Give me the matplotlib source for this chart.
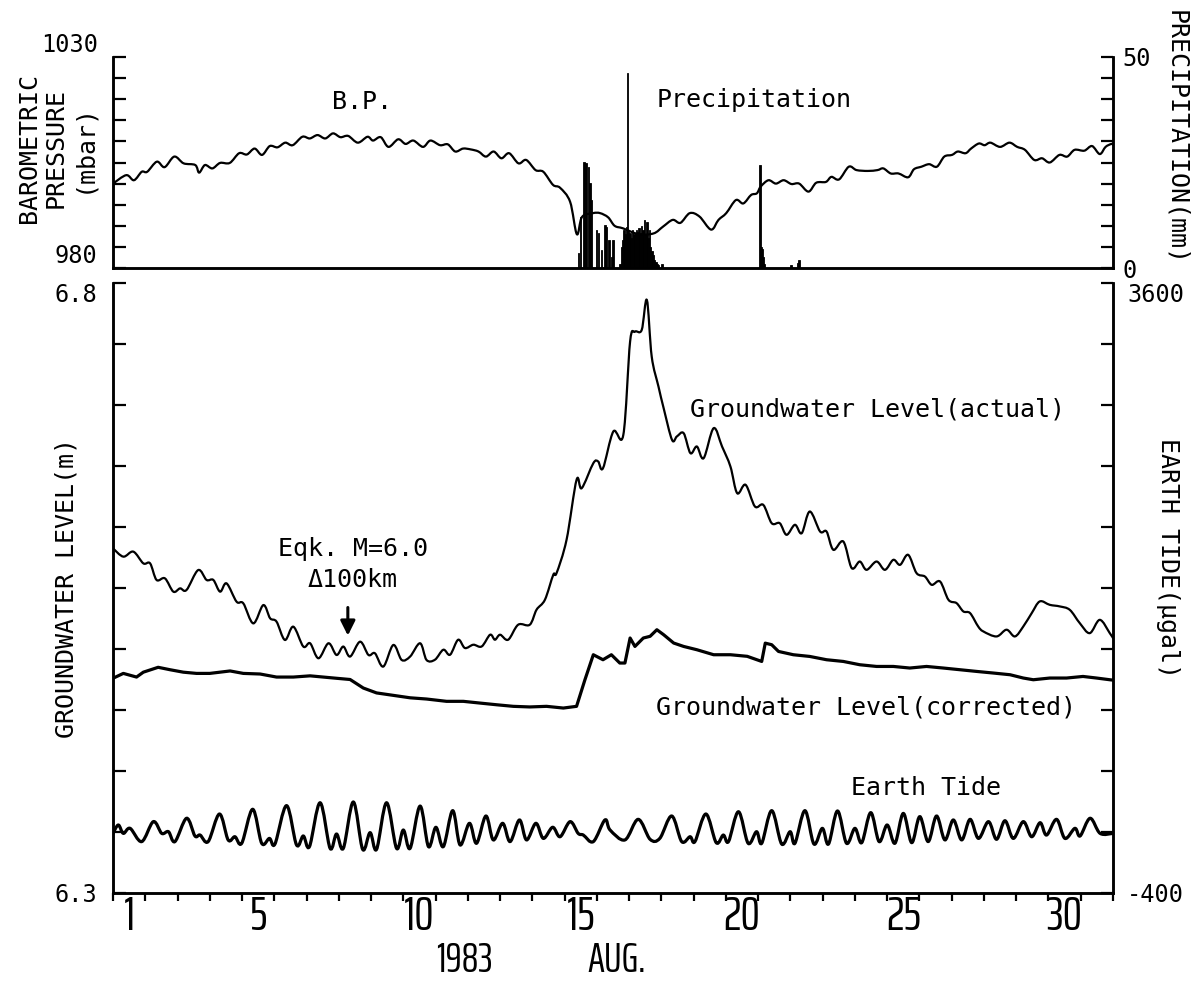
import matplotlib
matplotlib.use("Agg")
import numpy as np
import matplotlib.pyplot as plt
from matplotlib.path import Path
from matplotlib.patches import PathPatch

MONO = "DejaVu Sans Mono"
NARROW = ["Saira ExtraCondensed", "DejaVu Sans"]

# ---- barometric pressure (days since Aug 1 00:00, mbar) ----
bp_day = [0.0, 0.41, 0.65, 0.89, 1.06, 1.36, 1.6, 1.9, 2.19, 2.55,
          2.67, 2.85, 3.08, 3.32, 3.62, 3.91, 4.15, 4.39, 4.62, 4.86,
          5.1, 5.34, 5.57, 5.87, 6.1, 6.34, 6.58, 6.82, 7.05, 7.29,
          7.59, 7.89, 8.06, 8.3, 8.54, 8.84, 9.07, 9.31, 9.61, 9.84,
          10.14, 10.38, 10.61, 10.85, 11.09, 11.33, 11.56, 11.8, 12.04, 12.28,
          12.57, 12.81, 13.1, 13.34, 13.64, 13.86, 14.17, 14.38, 14.54, 14.88,
          15.1, 15.35, 15.55, 15.81, 16.3, 16.76, 17.05, 17.35, 17.59, 17.88,
          18.18, 18.54, 18.77, 19.01, 19.31, 19.54, 19.78, 19.96, 20.08, 20.32,
          20.55, 20.79, 21.03, 21.27, 21.56, 21.8, 22.1, 22.27, 22.51, 22.81,
          23.05, 23.4, 23.7, 23.88, 24.11, 24.35, 24.65, 24.83, 25.06, 25.3,
          25.54, 25.77, 26.01, 26.19, 26.43, 26.6, 26.84, 27.02, 27.2, 27.5,
          27.79, 28.03, 28.27, 28.56, 28.8, 29.04, 29.34, 29.58, 29.81, 30.11,
          30.35, 30.59, 30.77, 30.95, 31.0]
bp_mbar = [1000.0, 1002.0, 1000.8, 1002.8, 1002.8, 1005.2, 1003.9, 1006.4, 1004.8, 1004.4,
           1002.6, 1004.4, 1003.6, 1004.9, 1004.9, 1007.2, 1006.9, 1008.3, 1006.8, 1008.9,
           1008.6, 1009.7, 1009.1, 1011.1, 1010.7, 1011.5, 1010.7, 1011.9, 1011.0, 1011.3,
           1009.7, 1011.1, 1010.2, 1011.0, 1008.7, 1010.5, 1009.4, 1010.2, 1008.7, 1010.2,
           1009.1, 1009.3, 1007.6, 1008.3, 1008.1, 1007.6, 1006.4, 1007.6, 1006.0, 1007.2,
           1004.8, 1005.6, 1003.2, 1002.8, 999.7, 999.0, 995.7, 988.0, 992.1, 993.0,
           993.0, 992.0, 990.0, 989.4, 988.0, 988.2, 989.8, 991.4, 990.7, 993.0,
           992.2, 989.1, 991.4, 993.0, 996.1, 995.3, 997.3, 997.7, 999.3, 1000.8,
           1000.0, 1000.8, 999.9, 1000.0, 998.1, 1000.2, 1000.4, 1001.6, 1001.0, 1004.0,
           1003.2, 1003.0, 1003.2, 1003.6, 1002.4, 1002.4, 1001.5, 1003.4, 1004.0, 1004.6,
           1004.0, 1006.4, 1006.8, 1007.6, 1007.2, 1008.3, 1009.5, 1009.1, 1009.7, 1008.7,
           1009.7, 1008.7, 1008.0, 1005.6, 1006.0, 1005.0, 1006.8, 1006.4, 1008.0, 1007.8,
           1008.9, 1007.0, 1008.7, 1009.4, 1009.2]

# ---- hourly precipitation (mm) ----
prec_day = [14.42, 14.50, 14.60, 14.66, 14.73, 14.79, 14.84, 14.99, 15.04, 15.15,
            15.25, 15.30, 15.38, 15.46, 15.50,
            15.72, 15.76, 15.80, 15.84, 15.88, 15.92, 15.95, 15.99, 16.03, 16.07,
            16.11, 16.15, 16.19, 16.23, 16.27, 16.31, 16.35, 16.39, 16.43, 16.47,
            16.51, 16.55, 16.59, 16.63, 16.67, 16.71, 16.75, 16.79, 16.83, 16.87,
            16.91, 17.02,
            20.06, 20.09, 20.12, 20.15, 20.18,
            21.02, 21.21, 21.27]
prec_mm = [3.5, 12.2, 25.2, 24.8, 24.0, 20.1, 16.1, 9.0, 8.2, 4.3,
           10.2, 9.8, 6.6, 2.7, 6.6,
           1.0, 5.0, 6.6, 9.0, 8.0, 9.8, 46.1, 9.0, 8.2, 7.0,
           9.0, 8.0, 8.2, 9.0, 8.5, 9.5, 8.2, 10.0, 9.0, 11.4,
           8.0, 11.0, 7.0, 9.0, 5.0, 4.0, 3.0, 2.0, 1.5, 1.0,
           0.7, 1.0,
           24.4, 5.0, 4.5, 2.5, 1.0,
           0.8, 1.2, 2.0]

# ---- groundwater level, actual (m) ----
gw_act_day = [0.0, 0.32, 0.63, 0.94, 1.15, 1.35, 1.61, 1.87, 2.08, 2.28,
              2.64, 2.9, 3.11, 3.32, 3.52, 3.83, 4.04, 4.35, 4.66, 4.87,
              5.07, 5.33, 5.59, 5.9, 6.11, 6.37, 6.68, 6.93, 7.14, 7.35,
              7.66, 7.92, 8.12, 8.38, 8.69, 8.95, 9.21, 9.52, 9.72, 9.98,
              10.24, 10.45, 10.7, 10.91, 11.17, 11.43, 11.69, 11.84, 12.0, 12.25,
              12.56, 12.92, 13.13, 13.39, 13.65, 13.75, 14.06, 14.37, 14.53, 14.89,
              15.04, 15.19, 15.51, 15.82, 16.03, 16.18, 16.39, 16.55, 16.7, 16.91,
              17.07, 17.33, 17.48, 17.69, 17.9, 18.1, 18.31, 18.62, 18.88, 19.14,
              19.35, 19.61, 19.9, 20.16, 20.42, 20.67, 20.88, 21.14, 21.35, 21.6,
              21.92, 22.12, 22.33, 22.64, 22.9, 23.15, 23.36, 23.67, 23.93, 24.19,
              24.4, 24.65, 24.91, 25.17, 25.38, 25.64, 25.9, 26.15, 26.36, 26.57,
              26.82, 26.98, 27.39, 27.7, 27.96, 28.22, 28.48, 28.73, 29.04, 29.35,
              29.66, 29.97, 30.28, 30.59, 30.9, 31.0]
gw_act_m = [6.5825, 6.5757, 6.5798, 6.5702, 6.5702, 6.5566, 6.5579, 6.547, 6.5497, 6.5484,
            6.5647, 6.5566, 6.5566, 6.547, 6.5538, 6.5388, 6.5374, 6.521, 6.536, 6.5252,
            6.5224, 6.5074, 6.5183, 6.502, 6.5047, 6.4924, 6.5047, 6.4951, 6.502, 6.4938,
            6.506, 6.4951, 6.4965, 6.4856, 6.5033, 6.491, 6.4938, 6.5047, 6.491, 6.4912,
            6.4994, 6.4953, 6.5076, 6.5008, 6.5035, 6.5021, 6.5117, 6.5076, 6.5117, 6.5076,
            6.5199, 6.5199, 6.5322, 6.5404, 6.5609, 6.5622, 6.5895, 6.6386, 6.6318, 6.6523,
            6.6537, 6.6482, 6.6783, 6.6755, 6.752, 6.7601, 6.7615, 6.7861, 6.7397, 6.7151,
            6.6974, 6.6714, 6.6742, 6.6769, 6.6605, 6.666, 6.6564, 6.681, 6.666, 6.6496,
            6.6277, 6.6346, 6.6168, 6.6181, 6.6031, 6.6031, 6.5936, 6.6018, 6.5949, 6.6127,
            6.5963, 6.5963, 6.5813, 6.5881, 6.5663, 6.5717, 6.5649, 6.5717, 6.5649, 6.5731,
            6.569, 6.5772, 6.5622, 6.5594, 6.5526, 6.5553, 6.5403, 6.5376, 6.5308, 6.5294,
            6.5185, 6.5144, 6.5103, 6.5158, 6.5103, 6.5185, 6.5294, 6.539, 6.5362, 6.5349,
            6.5321, 6.5212, 6.513, 6.5239, 6.513, 6.509]

# ---- groundwater level, corrected (m) ----
gw_cor_day = [0.0, 0.32, 0.73, 0.94, 1.4, 1.77, 2.18, 2.59, 3.0, 3.63,
              4.04, 4.56, 5.07, 5.59, 6.11, 6.52, 6.93, 7.35, 7.76, 8.17,
              8.69, 9.21, 9.72, 10.34, 10.86, 11.37, 11.89, 12.41, 12.92, 13.44,
              13.96, 14.37, 14.63, 14.89, 15.19, 15.45, 15.71, 15.87, 16.03, 16.18,
              16.44, 16.65, 16.86, 17.07, 17.38, 17.69, 18.1, 18.62, 19.14, 19.66,
              20.11, 20.22, 20.42, 20.63, 21.09, 21.6, 22.12, 22.64, 23.15, 23.67,
              24.19, 24.7, 25.22, 25.74, 26.26, 26.78, 27.29, 27.81, 28.22, 28.53,
              29.04, 29.56, 30.07, 30.49, 30.9, 31.0]
gw_cor_m = [6.476, 6.480, 6.477, 6.481, 6.485, 6.483, 6.481, 6.480, 6.480, 6.482,
            6.480, 6.4795, 6.477, 6.477, 6.478, 6.477, 6.476, 6.475, 6.468, 6.464,
            6.462, 6.460, 6.459, 6.4571, 6.4571, 6.4557, 6.4543, 6.453, 6.4525, 6.453,
            6.4516, 6.453, 6.4748, 6.4953, 6.4912, 6.4953, 6.4885, 6.4885, 6.509, 6.5021,
            6.509, 6.5104, 6.5158, 6.5117, 6.5049, 6.5021, 6.4994, 6.4953, 6.4953, 6.494,
            6.4898, 6.5048, 6.5035, 6.498, 6.4953, 6.4939, 6.4912, 6.4898, 6.4871, 6.4857,
            6.4857, 6.4844, 6.4857, 6.4844, 6.483, 6.4816, 6.4803, 6.4789, 6.4762, 6.4748,
            6.4762, 6.4762, 6.4775, 6.4762, 6.4748, 6.4745]

# ---- earth tide (ugal), peaks and troughs ----
tide_day = [0.0, 0.165, 0.32, 0.53, 0.89, 1.25, 1.51, 1.72, 1.92, 2.28,
            2.54, 2.70, 2.95, 3.30, 3.57, 3.78, 3.99, 4.33, 4.61, 4.85,
            5.02, 5.38, 5.69, 5.90, 6.09, 6.42, 6.73, 6.93, 7.14, 7.45,
            7.74, 7.97, 8.17, 8.48, 8.79, 9.00, 9.21, 9.52, 9.78, 10.01,
            10.24, 10.53, 10.76, 11.05, 11.27, 11.56, 11.79, 12.08, 12.31, 12.6,
            12.82, 13.11, 13.34, 13.63, 13.86, 14.17, 14.42, 14.58, 14.89, 15.25,
            15.41, 15.87, 16.28, 16.65, 16.95, 17.32, 17.63, 17.89, 18.04, 18.38,
            18.70, 18.92, 19.08, 19.39, 19.69, 19.95, 20.11, 20.42, 20.73, 20.99,
            21.14, 21.45, 21.73, 21.99, 22.18, 22.46, 22.74, 23.0, 23.21, 23.49,
            23.75, 24.0, 24.24, 24.5, 24.76, 25.01, 25.27, 25.53, 25.79, 26.05,
            26.31, 26.57, 26.83, 27.14, 27.39, 27.65, 27.91, 28.22, 28.48, 28.74,
            28.94, 29.25, 29.51, 29.82, 29.98, 30.29, 30.6, 31.0]
tide_ugal = [-9, 46, -9, 24, -63, 68, -9, 2, -63, 90,
             -26, -20, -63, 118, -52, -31, -74, 149, -74, -42,
             -79, 173, -85, -26, -96, 192, -107, -13, -107, 197,
             -114, -4, -114, 192, -107, 13, -107, 170, -96, 31,
             -96, 140, -85, 57, -74, 105, -52, 57, -63, 79,
             -52, 57, -42, 31, -31, 68, -9, -20, -63, 79,
             13, -52, 83, -48, -42, 105, -63, -31, -63, 118,
             -70, -20, -63, 133, -74, 2, -74, 140, -79, 2,
             -74, 140, -79, 24, -79, 138, -74, 24, -70, 127,
             -63, 46, -74, 122, -70, 101, -63, 105, -52, 79,
             -52, 83, -42, 68, -48, 74, -42, 68, -31, 61,
             -20, 83, -42, 24, -26, 90, -9, -9]

eqk_day = 7.28
day_labels = ["1", "5", "10", "15", "20", "25", "30"]
day_label_pos = [0.5, 4.5, 9.5, 14.5, 19.5, 24.5, 29.5]


def smooth_curve(x, y):
    # pen-recorder look: smooth Bezier curve through the read points
    p = np.column_stack([x, y]).astype(float)
    pp = np.vstack([p[0], p, p[-1]])
    verts, codes = [p[0]], [Path.MOVETO]
    for i in range(len(p) - 1):
        p0, p1, p2, p3 = pp[i], pp[i + 1], pp[i + 2], pp[i + 3]
        verts += [p1 + (p2 - p0) / 6, p2 - (p3 - p1) / 6, p2]
        codes += [Path.CURVE4] * 3
    return Path(verts, codes)


# -------- layout (pixel boxes of the 1200x985 figure) --------
W, H = 1200, 985
fig = plt.figure(figsize=(12, 9.85), dpi=100)


def box(l, t, r, b):
    return [l / W, 1 - b / H, (r - l) / W, (b - t) / H]


ax_bp = fig.add_axes(box(113, 57, 1113, 268))
ax_pr = ax_bp.twinx()
ax_gw = fig.add_axes(box(113, 283, 1113, 893))
ax_et = ax_gw.twinx()

line = dict(fill=False, ec="k", capstyle="round", joinstyle="round")
ax_bp.add_patch(PathPatch(smooth_curve(bp_day, bp_mbar), lw=1.6, **line))
ax_pr.bar(prec_day, prec_mm, width=0.04, color="k", edgecolor="k", lw=0.6)
ax_gw.add_patch(PathPatch(smooth_curve(gw_act_day, gw_act_m), lw=1.6, **line))
ax_gw.plot(gw_cor_day, gw_cor_m, color="k", lw=2.3)
ax_et.add_patch(PathPatch(smooth_curve(tide_day, tide_ugal), lw=2.3, **line))

ax_bp.set_ylim(980, 1030)
ax_pr.set_ylim(0, 50)
ax_gw.set_ylim(6.3, 6.8)
ax_et.set_ylim(-400, 3600)


def end_labels(ticks, lo, hi):
    return [lo] + [""] * (len(ticks) - 2) + [hi]


bp_ticks = np.arange(980, 1031, 5)
pr_ticks = np.arange(0, 51, 5)
gw_ticks = np.linspace(6.3, 6.8, 11)
et_ticks = np.arange(-400, 3601, 400)
ax_bp.set_yticks(bp_ticks, end_labels(bp_ticks, "980", "1030"))
ax_pr.set_yticks(pr_ticks, end_labels(pr_ticks, "0", "50"))
ax_gw.set_yticks(gw_ticks, end_labels(gw_ticks, "6.3", "6.8"))
ax_et.set_yticks(et_ticks, end_labels(et_ticks, "-400", "3600"))

for ax in (ax_bp, ax_pr, ax_gw, ax_et):
    ax.set_xlim(0, 31)
    ax.spines["top"].set_visible(False)
    for s in ax.spines.values():
        s.set_linewidth(1.8)
    ax.tick_params(axis="y", direction="in", length=9, width=1.6,
                   labelsize=17, labelfontfamily=MONO)
ax_bp.tick_params(axis="y", pad=11)
ax_gw.tick_params(axis="y", pad=11)
ax_pr.tick_params(axis="y", pad=7)
ax_et.tick_params(axis="y", pad=10)

ax_bp.tick_params(axis="x", which="both", bottom=False, labelbottom=False)

ax_gw.set_xticks(np.arange(0, 32))
ax_gw.set_xticks(day_label_pos, day_labels, minor=True)
ax_gw.tick_params(axis="x", which="major", direction="out", length=6, width=1.6,
                  labelbottom=False)
ax_gw.tick_params(axis="x", which="minor", length=0, pad=1, labelsize=35,
                  labelfontfamily=NARROW)

# vertical placement of the end labels, as in the original
ax_bp.get_yticklabels()[0].set_va("bottom")
ax_bp.get_yticklabels()[-1].set_va("bottom")
ax_gw.get_yticklabels()[-1].set_va("top")
ax_et.get_yticklabels()[-1].set_va("top")

# -------- annotations --------
ax_gw.annotate("", xy=(eqk_day, 6.511), xytext=(eqk_day, 6.534),
               arrowprops=dict(arrowstyle="-|>", color="k", lw=2.2,
                               mutation_scale=22, shrinkA=0, shrinkB=0))

txt = dict(fontsize=18, family=MONO, ha="center", va="center")
fig.text(362 / W, 1 - 102 / H, "B.P.", **txt)
fig.text(754 / W, 1 - 100 / H, "Precipitation", **txt)
fig.text(878 / W, 1 - 410 / H, "Groundwater Level(actual)", **txt)
fig.text(866 / W, 1 - 708 / H, "Groundwater Level(corrected)", **txt)
fig.text(926 / W, 1 - 788 / H, "Earth Tide", **txt)
fig.text(353 / W, 1 - 549 / H, "Eqk. M=6.0", **txt)
fig.text(353 / W, 1 - 580 / H, "Δ100km", **txt)

fig.text(56 / W, 1 - 148 / H, "BAROMETRIC\nPRESSURE\n(mbar)", rotation=90,
         multialignment="center", linespacing=1.15, **txt)
fig.text(1176 / W, 1 - 137 / H, "PRECIPITATION(mm)", rotation=-90, **txt)
fig.text(67 / W, 1 - 588 / H, "GROUNDWATER LEVEL(m)", rotation=90, **txt)
fig.text(1168 / W, 1 - 558 / H, "EARTH TIDE(μgal)", rotation=-90, **txt)

fig.text(464 / W, 1 - 960 / H, "1983", fontsize=30, family=NARROW,
         ha="center", va="center")
fig.text(617 / W, 1 - 960 / H, "AUG.", fontsize=30, family=NARROW,
         ha="center", va="center")

fig.savefig("out.png", dpi=100)
